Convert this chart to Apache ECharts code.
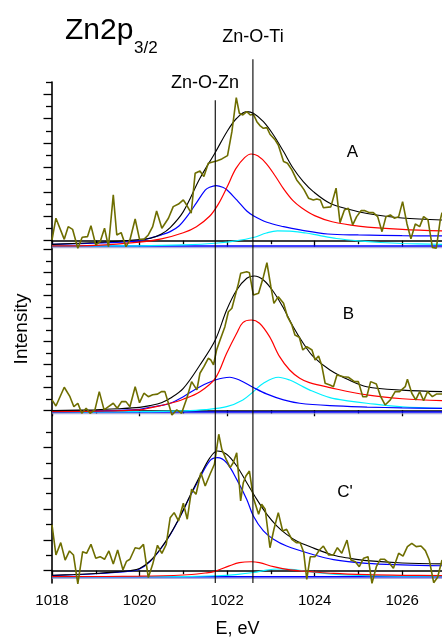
<!DOCTYPE html>
<html>
  <head>
    <meta charset="utf-8" />
    <title>Zn2p3/2</title>
    <style>
      html, body { margin: 0; padding: 0; background: #fff; }
      #mapBox { width: 442px; height: 638px; }
    </style>
  </head>
  <body>
    <div id="mapBox"></div>
  </body>
  <script src="https://cdn.jsdelivr.net/npm/echarts@6/dist/echarts.min.js"></script>
  <script>
    // energy axis
    var eMin = 1018, eMax = 1026.91;
    var eMajor = [1018, 1020, 1022, 1024, 1026];
    var eMinor = [1019, 1021, 1023, 1025];
    // reference lines Zn-O-Zn / Zn-O-Ti
    var peakE = [1021.73, 1022.59];
    var peakNames = ['Zn-O-Zn', 'Zn-O-Ti'];
    var lineTop = [0.922, 1];

    // intensity ticks (a.u.) per panel
    var tickLongA = [0, 2, 4, 6, 8, 10, 12], tickShortA = [1, 3, 5, 7, 9, 11, 13];
    var tickLongB = [0, 2, 4, 6, 8, 10, 12, 14], tickShortB = [1, 3, 5, 7, 9, 11, 13];
    var tickLongC = [0, 2, 4, 6, 8], tickShortC = [1, 3, 5, 7, 9];
    var baseLevel = [-0.43, -0.15, -0.39];

    // ---- panel A ----
    var expA = [[1018.00,0.06],[1018.09,1.84],[1018.28,0.11],[1018.37,1.15],[1018.47,0.93],[1018.59,-0.62],[1018.69,0.28],[1018.81,0.33],[1018.89,1.23],[1019.00,-0.35],[1019.10,-0.08],[1019.20,1.02],[1019.29,-0.49],[1019.40,3.75],[1019.48,0.47],[1019.58,0.66],[1019.69,-0.49],[1019.78,0.06],[1019.90,1.78],[1020.00,0.11],[1020.10,0.11],[1020.20,0.47],[1020.30,1.15],[1020.39,2.43],[1020.51,1.02],[1020.66,1.84],[1020.77,2.79],[1020.89,3.0],[1021.00,3.34],[1021.08,2.9],[1021.18,2.25],[1021.27,5.52],[1021.38,5.71],[1021.47,5.25],[1021.57,6.34],[1021.65,6.43],[1021.76,6.53],[1021.88,6.70],[1022.01,6.97],[1022.11,8.93],[1022.21,11.72],[1022.28,10.44],[1022.36,10.30],[1022.45,10.57],[1022.53,10.30],[1022.60,10.36],[1022.68,9.75],[1022.75,9.43],[1022.83,9.21],[1022.91,9.26],[1022.98,8.72],[1023.10,8.25],[1023.17,7.84],[1023.29,6.48],[1023.38,6.34],[1023.48,5.80],[1023.59,4.98],[1023.68,4.57],[1023.76,4.16],[1023.86,3.48],[1023.97,3.34],[1024.05,3.42],[1024.13,3.34],[1024.20,2.70],[1024.37,2.77],[1024.49,4.30],[1024.58,1.48],[1024.68,2.52],[1024.77,2.66],[1024.87,1.29],[1024.96,1.97],[1025.06,2.46],[1025.15,2.46],[1025.25,2.30],[1025.34,2.30],[1025.44,1.97],[1025.54,0.74],[1025.63,1.97],[1025.73,2.11],[1025.82,1.84],[1025.92,1.97],[1026.01,3.20],[1026.11,1.37],[1026.20,0.15],[1026.30,1.37],[1026.40,1.15],[1026.49,1.97],[1026.59,1.70],[1026.69,-0.55],[1026.78,-0.62],[1026.87,1.70],[1026.91,2.3]];
    var fitA = [[1018.0,-0.30],[1019.0,-0.15],[1019.5,-0.05],[1020.0,0.10],[1020.25,0.2],[1020.5,0.55],[1020.7,1.07],[1021.0,2.38],[1021.38,5.11],[1021.73,7.23],[1022.0,8.95],[1022.22,10.03],[1022.45,10.57],[1022.6,10.44],[1022.83,9.75],[1023.06,8.66],[1023.29,7.30],[1023.51,5.93],[1023.74,4.84],[1023.97,4.02],[1024.35,3.07],[1024.8,2.56],[1025.2,2.23],[1026.0,1.86],[1026.91,1.70]];
    var znoznA = [[1018.0,-0.30],[1019.0,-0.21],[1019.6,-0.12],[1020.0,0.0],[1020.3,0.27],[1020.5,0.48],[1020.7,0.74],[1020.9,1.2],[1021.1,2.05],[1021.3,3.1],[1021.5,4.15],[1021.6,4.38],[1021.75,4.51],[1021.9,4.38],[1022.0,4.15],[1022.22,3.34],[1022.45,2.43],[1022.6,2.05],[1022.91,1.51],[1023.29,1.15],[1023.67,0.88],[1024.3,0.55],[1025.0,0.47],[1026.0,0.41],[1026.91,0.39]];
    var znotiA = [[1018.0,-0.43],[1019.0,-0.38],[1020.0,-0.12],[1020.5,0.15],[1021.0,0.65],[1021.3,1.15],[1021.6,2.0],[1021.8,3.0],[1022.0,4.4],[1022.2,5.9],[1022.4,6.8],[1022.55,7.1],[1022.7,6.95],[1022.9,6.3],[1023.1,5.3],[1023.3,4.2],[1023.5,3.3],[1023.7,2.7],[1024.0,2.05],[1024.4,1.55],[1025.0,1.2],[1026.0,0.92],[1026.91,0.8]];
    var thirdA = [[1018.0,-0.43],[1020.0,-0.42],[1021.0,-0.35],[1021.8,-0.19],[1022.2,-0.02],[1022.6,0.26],[1022.9,0.63],[1023.15,0.80],[1023.5,0.77],[1023.8,0.63],[1024.1,0.43],[1024.5,0.18],[1025.0,-0.02],[1025.5,-0.15],[1026.0,-0.23],[1026.91,-0.30]];

    // ---- panel B ----
    var expB = [[1018.00,0.90],[1018.09,0.37],[1018.28,2.00],[1018.41,1.18],[1018.50,0.31],[1018.59,0.61],[1018.68,-0.26],[1018.78,0.17],[1018.87,-0.26],[1018.98,0.03],[1019.08,1.62],[1019.19,0.03],[1019.29,0.31],[1019.40,0.61],[1019.49,0.17],[1019.59,0.75],[1019.69,0.75],[1019.78,0.31],[1019.90,2.05],[1020.00,0.66],[1020.10,1.48],[1020.20,1.18],[1020.30,1.35],[1020.41,1.4],[1020.50,1.62],[1020.58,1.62],[1020.74,-0.41],[1020.85,0.03],[1020.96,-0.26],[1021.08,1.04],[1021.19,2.49],[1021.31,1.77],[1021.38,3.22],[1021.47,3.79],[1021.57,4.52],[1021.63,4.37],[1021.69,3.94],[1021.76,5.24],[1021.84,6.11],[1021.95,7.27],[1022.03,8.57],[1022.11,8.87],[1022.18,9.88],[1022.26,11.04],[1022.31,11.91],[1022.45,12.05],[1022.51,11.97],[1022.60,10.03],[1022.72,10.17],[1022.83,11.62],[1022.91,12.83],[1023.00,10.75],[1023.07,9.30],[1023.17,9.88],[1023.29,9.30],[1023.38,8.14],[1023.48,7.42],[1023.55,6.55],[1023.65,6.35],[1023.73,5.24],[1023.82,5.53],[1023.94,5.24],[1024.01,4.37],[1024.09,4.72],[1024.16,3.94],[1024.24,2.35],[1024.35,2.20],[1024.43,2.05],[1024.51,3.07],[1024.66,2.92],[1024.77,2.87],[1024.91,2.49],[1025.00,2.49],[1025.10,1.18],[1025.19,1.18],[1025.28,2.49],[1025.41,2.29],[1025.51,1.18],[1025.61,0.46],[1025.73,0.90],[1025.84,1.62],[1025.94,1.62],[1026.07,2.05],[1026.12,2.70],[1026.22,1.48],[1026.31,0.90],[1026.40,1.62],[1026.49,0.83],[1026.58,1.62],[1026.69,1.18],[1026.79,1.42],[1026.91,1.42]];
    var fitB = [[1018.0,-0.03],[1019.0,0.05],[1019.5,0.13],[1020.0,0.25],[1020.24,0.40],[1020.5,0.65],[1020.7,1.04],[1021.0,1.91],[1021.38,3.94],[1021.73,6.11],[1021.99,8.72],[1022.22,10.46],[1022.45,11.48],[1022.62,11.68],[1022.83,11.33],[1023.06,10.31],[1023.29,8.87],[1023.51,7.27],[1023.74,5.83],[1023.97,4.66],[1024.35,3.50],[1024.8,2.6],[1025.19,2.05],[1026.0,1.75],[1026.91,1.62]];
    var znoznB = [[1018.0,-0.12],[1019.0,-0.07],[1020.0,0.08],[1020.24,0.26],[1020.5,0.42],[1020.7,0.61],[1021.0,1.18],[1021.38,2.05],[1021.73,2.63],[1022.06,2.87],[1022.28,2.63],[1022.59,2.0],[1022.9,1.42],[1023.29,0.90],[1023.66,0.61],[1024.35,0.40],[1025.2,0.28],[1026.0,0.21],[1026.91,0.17]];
    var znotiB = [[1018.0,-0.12],[1019.0,-0.08],[1020.0,0.03],[1020.24,0.2],[1020.7,0.61],[1021.0,0.96],[1021.38,1.62],[1021.73,2.78],[1021.99,4.96],[1022.22,6.70],[1022.36,7.62],[1022.55,7.85],[1022.74,7.57],[1022.97,6.40],[1023.2,4.66],[1023.43,3.50],[1023.66,2.78],[1023.88,2.40],[1024.35,1.97],[1025.19,1.33],[1026.0,1.0],[1026.91,0.83]];
    var thirdB = [[1018.0,-0.15],[1020.0,-0.12],[1021.0,-0.05],[1021.5,0.05],[1021.99,0.31],[1022.36,0.9],[1022.6,1.62],[1022.83,2.35],[1023.17,2.87],[1023.43,2.63],[1023.66,2.20],[1023.88,1.77],[1024.35,1.1],[1024.8,0.8],[1025.19,0.61],[1026.0,0.3],[1026.91,0.17]];

    // ---- panel C' ----
    var expC = [[1018.00,2.97],[1018.09,1.02],[1018.20,1.82],[1018.30,0.69],[1018.40,1.28],[1018.49,1.02],[1018.59,-0.85],[1018.70,1.23],[1018.79,1.13],[1018.89,1.71],[1019.00,0.81],[1019.10,0.91],[1019.20,0.74],[1019.30,1.28],[1019.40,0.44],[1019.50,1.34],[1019.62,0.05],[1019.70,0.6],[1019.78,0.74],[1019.90,1.49],[1020.00,1.43],[1020.09,1.71],[1020.20,-0.45],[1020.30,0.41],[1020.41,1.65],[1020.51,1.13],[1020.61,1.71],[1020.70,3.44],[1020.79,3.77],[1020.89,3.23],[1021.00,4.38],[1021.09,3.34],[1021.19,5.29],[1021.29,4.96],[1021.40,6.36],[1021.50,5.50],[1021.61,6.26],[1021.71,6.91],[1021.81,8.86],[1021.88,7.88],[1021.98,7.23],[1022.07,6.69],[1022.14,7.01],[1022.22,7.66],[1022.31,4.53],[1022.37,5.71],[1022.43,6.15],[1022.51,6.47],[1022.60,4.74],[1022.72,3.66],[1022.79,4.31],[1022.87,3.99],[1022.98,1.49],[1023.07,2.69],[1023.17,3.77],[1023.27,2.58],[1023.36,2.69],[1023.48,2.04],[1023.58,1.82],[1023.67,1.82],[1023.75,1.2],[1023.82,-0.56],[1023.90,0.9],[1024.01,0.91],[1024.11,1.34],[1024.20,1.60],[1024.32,1.02],[1024.43,1.02],[1024.52,1.49],[1024.62,1.13],[1024.74,1.99],[1024.83,0.69],[1024.93,0.58],[1025.02,0.26],[1025.12,0.81],[1025.22,0.91],[1025.31,-0.82],[1025.41,0.26],[1025.50,0.74],[1025.60,0.74],[1025.71,0.48],[1025.80,0.16],[1025.92,1.13],[1026.02,0.95],[1026.12,1.56],[1026.22,1.78],[1026.32,1.56],[1026.43,1.60],[1026.53,1.30],[1026.62,0.69],[1026.72,-0.78],[1026.81,-0.43],[1026.91,0.69]];
    var fitC = [[1018.0,-0.30],[1018.5,-0.25],[1019.0,-0.18],[1019.5,-0.08],[1019.78,0.0],[1020.0,0.14],[1020.24,0.63],[1020.47,1.39],[1020.7,2.36],[1020.93,3.55],[1021.15,4.85],[1021.38,6.15],[1021.61,7.34],[1021.78,7.77],[1021.99,7.56],[1022.22,6.80],[1022.45,5.71],[1022.68,4.63],[1022.91,3.66],[1023.14,2.90],[1023.36,2.36],[1023.59,1.93],[1023.9,1.55],[1024.43,1.0],[1024.81,0.80],[1025.19,0.65],[1026.0,0.50],[1026.91,0.44]];
    var znoznC = [[1018.0,-0.32],[1019.0,-0.20],[1019.78,-0.03],[1020.0,0.11],[1020.24,0.60],[1020.47,1.36],[1020.7,2.33],[1020.93,3.52],[1021.15,4.8],[1021.38,6.04],[1021.61,7.15],[1021.78,7.34],[1021.99,7.01],[1022.22,5.93],[1022.45,4.63],[1022.6,3.55],[1022.83,2.58],[1023.06,2.04],[1023.36,1.60],[1023.9,1.1],[1024.43,0.72],[1025.19,0.48],[1026.0,0.38],[1026.91,0.32]];
    var znotiC = [[1018.0,-0.39],[1020.0,-0.36],[1021.0,-0.28],[1021.5,-0.15],[1021.7,-0.06],[1022.05,0.31],[1022.28,0.52],[1022.55,0.58],[1022.74,0.52],[1023.06,0.26],[1023.44,0.05],[1023.9,-0.06],[1024.43,-0.18],[1025.2,-0.26],[1026.0,-0.30],[1026.91,-0.32]];
    var thirdC = [[1018.0,-0.40],[1021.0,-0.38],[1021.76,-0.33],[1022.2,-0.25],[1022.6,-0.12],[1022.9,0.04],[1023.15,0.11],[1023.45,0.08],[1023.75,-0.02],[1024.1,-0.14],[1024.5,-0.24],[1025.2,-0.32],[1026.91,-0.36]];

    var _font = '"Liberation Sans", Arial, Helvetica, sans-serif';
    var _olive = '#6e6e00';

    var panels = [
      {top: 82, height: 166.5, min: -0.64, max: 13, long: tickLongA, short: tickShortA,
       exp: expA, fit: fitA, s1: znoznA, s2: znotiA, s3: thirdA},
      {top: 249.3, height: 166.7, min: -0.5, max: 14, long: tickLongB, short: tickShortB,
       exp: expB, fit: fitB, s1: znoznB, s2: znotiB, s3: thirdB},
      {top: 416.7, height: 166.3, min: -0.8, max: 10, long: tickLongC, short: tickShortC,
       exp: expC, fit: fitC, s1: znoznC, s2: znotiC, s3: thirdC}
    ];

    function curve(data, color, xi, yi, width, z) {
      return {
        type: 'line', data: data, xAxisIndex: xi, yAxisIndex: yi,
        showSymbol: false, symbol: 'none', smooth: 0.35,
        silent: true, clip: false, z: z || 2,
        lineStyle: {color: color, width: width || 1.2}
      };
    }

    function buildOption() {
      var grid = [], xAxis = [], yAxis = [], series = [];
      panels.forEach(function (p, i) {
        var last = i === panels.length - 1;
        grid.push({left: 52, width: 390, top: p.top, height: p.height});
        // energy axis, long ticks
        xAxis.push({
          type: 'value', gridIndex: i, position: 'bottom', min: eMin, max: eMax,
          axisLine: {lineStyle: {color: '#000', width: 1.6}},
          axisTick: {show: true, length: 6, customValues: eMajor, lineStyle: {color: '#000', width: 1.3}},
          axisLabel: {show: last, customValues: eMajor, margin: 10, color: '#000', fontSize: 15, fontFamily: _font,
            formatter: function (v) { return String(v); }},
          splitLine: {show: false}
        });
        // energy axis, short ticks
        xAxis.push({
          type: 'value', gridIndex: i, position: 'bottom', min: eMin, max: eMax,
          axisLine: {show: false},
          axisTick: {show: true, length: 3.5, customValues: eMinor, lineStyle: {color: '#000', width: 1.3}},
          axisLabel: {show: false}, splitLine: {show: false}
        });
        yAxis.push({
          type: 'value', gridIndex: i, position: 'left', min: p.min, max: p.max,
          axisLine: {show: true, lineStyle: {color: '#000', width: 1.6}},
          axisTick: {show: true, length: 8.5, customValues: p.long, lineStyle: {color: '#000', width: 1.3}},
          axisLabel: {show: false}, splitLine: {show: false}
        });
        yAxis.push({
          type: 'value', gridIndex: i, position: 'left', min: p.min, max: p.max,
          axisLine: {show: false},
          axisTick: {show: true, length: 6, customValues: p.short, lineStyle: {color: '#000', width: 1.3}},
          axisLabel: {show: false}, splitLine: {show: false}
        });
        var xi = 2 * i, yi = 2 * i;
        var base = curve([[eMin, baseLevel[i]], [eMax, baseLevel[i]]], '#0000ff', xi, yi, 1.6);
        base.lineStyle.shadowColor = 'rgba(140,140,200,0.7)';
        base.lineStyle.shadowOffsetY = 1.5;
        series.push(base);
        series.push(curve(p.s3, '#00f0ff', xi, yi));
        series.push(curve(p.s1, '#0000ff', xi, yi));
        series.push(curve(p.s2, '#ff0000', xi, yi));
        series.push(curve(p.fit, '#000000', xi, yi, 1.1));
        var e = curve(p.exp, _olive, xi, yi, 1.6, 3);
        e.smooth = false;
        series.push(e);
      });

      // overlay for the two reference lines
      grid.push({left: 52, width: 390, top: 59.3, height: 523.7});
      xAxis.push({type: 'value', gridIndex: 3, min: eMin, max: eMax, show: false});
      yAxis.push({type: 'value', gridIndex: 3, min: 0, max: 1, show: false});
      peakE.forEach(function (e, k) {
        var s = curve([[e, 0], [e, lineTop[k]]], '#000', 6, 6, 1.1, 5);
        s.smooth = false;
        s.name = peakNames[k];
        series.push(s);
      });

      function txt(text, x, y, size, align, rot) {
        var o = {
          type: 'text', silent: true, z: 10,
          style: {
            text: text, x: x, y: y, fill: '#000',
            font: size + 'px ' + _font,
            align: align || 'center', textAlign: align || 'center',
            verticalAlign: 'middle', textVerticalAlign: 'middle'
          }
        };
        if (rot) { o.x = x; o.y = y; o.style.x = 0; o.style.y = 0; o.rotation = rot; }
        return o;
      }

      var graphic = [
        txt('Zn2p', 65, 31, 30, 'left'),
        txt('3/2', 134, 48.5, 17, 'left'),
        txt(peakNames[0], 205, 83.5, 18),
        txt(peakNames[1], 253, 37.5, 18),
        txt('A', 352.5, 152, 17),
        txt('B', 348.5, 314.5, 17),
        txt("C'", 345, 492.5, 17),
        txt('Intensity', 21.5, 329, 19, 'center', Math.PI / 2),
        txt('E, eV', 237.5, 629.5, 18)
      ];

      return {
        animation: false,
        backgroundColor: '#fff',
        grid: grid, xAxis: xAxis, yAxis: yAxis,
        series: series, graphic: graphic
      };
    }

    var myChart = echarts.init(document.getElementById('mapBox'), null, {renderer: 'canvas'});
    myChart.setOption(buildOption());
  </script>
</html>
